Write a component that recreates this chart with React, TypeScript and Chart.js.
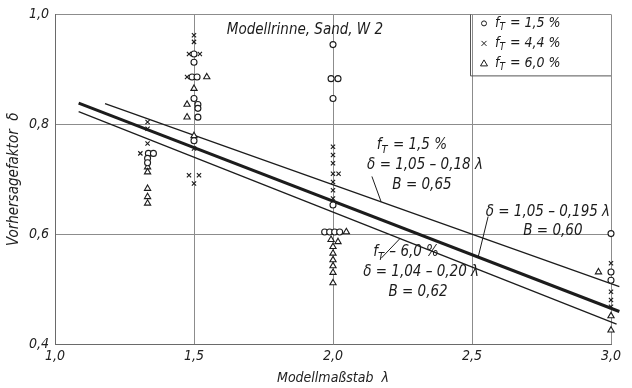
import { useEffect, useRef } from 'react';
import { Chart, registerables } from 'chart.js';

Chart.register(...registerables);

const FONT = "'DejaVu Sans Condensed', 'Liberation Sans Narrow', 'DejaVu Sans', sans-serif";

// axis ticks
const xTicks = [1.0, 1.5, 2.0, 2.5, 3.0];
const yTicks = [0.4, 0.6, 0.8, 1.0];

// f_T = 1,5 % (circles)
const circleLambda = [1.336, 1.354, 1.333, 1.333, 1.5, 1.5, 1.493, 1.511, 1.5, 1.514, 1.514, 1.514, 1.5, 2.0, 1.993, 2.018, 2.0, 2.0, 1.97, 1.988, 2.006, 2.024, 3.0, 3.0, 3.0];
const circleDelta = [0.747, 0.747, 0.738, 0.730, 0.928, 0.913, 0.886, 0.886, 0.847, 0.836, 0.829, 0.813, 0.770, 0.945, 0.883, 0.883, 0.847, 0.653, 0.604, 0.604, 0.604, 0.604, 0.601, 0.531, 0.516];

// f_T = 4,4 % (crosses)
const crossLambda = [1.333, 1.333, 1.333, 1.307, 1.5, 1.5, 1.482, 1.521, 1.475, 1.5, 1.482, 1.518, 1.5, 2.0, 2.0, 2.0, 2.0, 2.02, 2.0, 2.0, 2.0, 3.0, 3.0, 3.0, 3.0];
const crossDelta = [0.804, 0.792, 0.765, 0.747, 0.962, 0.950, 0.928, 0.928, 0.886, 0.756, 0.707, 0.707, 0.692, 0.759, 0.744, 0.729, 0.710, 0.710, 0.695, 0.680, 0.665, 0.547, 0.495, 0.480, 0.468];

// f_T = 6,0 % (triangles)
const triLambda = [1.333, 1.333, 1.333, 1.333, 1.333, 1.546, 1.5, 1.475, 1.475, 1.5, 2.048, 1.993, 2.018, 2.0, 2.0, 2.0, 2.0, 2.0, 2.0, 2.955, 3.0, 3.0];
const triDelta = [0.722, 0.713, 0.683, 0.668, 0.656, 0.886, 0.865, 0.836, 0.813, 0.779, 0.604, 0.590, 0.586, 0.577, 0.565, 0.553, 0.542, 0.530, 0.511, 0.531, 0.451, 0.425];

// regression lines (end points)
const line15Lambda = [1.18, 3.03];
const line15Delta = [0.8376, 0.5046];
const lineAllLambda = [1.085, 3.03];
const lineAllDelta = [0.8384, 0.4592];
const line60Lambda = [1.085, 3.02];
const line60Delta = [0.823, 0.436];

const pts = (xs: number[], ys: number[]) => xs.map((x, i) => ({ x, y: ys[i] }));
const fmt = (v: number) => v.toFixed(1).replace('.', ',');

const INK = '#1c1c1c';
const ANN = 15;

function drawFT(ctx: CanvasRenderingContext2D, x: number, y: number, rest: string, align: 'left' | 'center', size: number) {
  const main = `italic ${size}px ${FONT}`;
  const sub = `italic ${Math.round(size * 0.72)}px ${FONT}`;
  ctx.font = main;
  const wf = ctx.measureText('f').width;
  ctx.font = sub;
  const wt = ctx.measureText('T').width;
  ctx.font = main;
  const wr = ctx.measureText(rest).width;
  const total = wf + wt + 1 + wr;
  const sx = align === 'center' ? x - total / 2 : x;
  ctx.textAlign = 'left';
  ctx.textBaseline = 'middle';
  ctx.font = main;
  ctx.fillText('f', sx, y);
  ctx.font = sub;
  ctx.fillText('T', sx + wf, y + size * 0.3);
  ctx.font = main;
  ctx.fillText(rest, sx + wf + wt + 1, y);
}

const annotationPlugin = {
  id: 'annot',
  afterDatasetsDraw(chart: any) {
    const { ctx, chartArea, scales } = chart;
    const X = (v: number) => scales.x.getPixelForValue(v);
    const Y = (v: number) => scales.y.getPixelForValue(v);
    ctx.save();
    ctx.fillStyle = INK;
    ctx.strokeStyle = INK;

    // title
    ctx.font = `italic ${ANN}px ${FONT}`;
    ctx.textAlign = 'center';
    ctx.textBaseline = 'middle';
    ctx.fillText('Modellrinne, Sand, W 2', X(1.899), Y(0.971));

    // annotations
    drawFT(ctx, X(2.284), Y(0.762), ' = 1,5 %', 'center', ANN);
    ctx.font = `italic ${ANN}px ${FONT}`;
    ctx.textAlign = 'center';
    ctx.fillText('δ = 1,05 – 0,18 λ', X(2.331), Y(0.725));
    ctx.fillText('B = 0,65', X(2.320), Y(0.689));
    ctx.fillText('δ = 1,05 – 0,195 λ', X(2.773), Y(0.640));
    ctx.fillText('B = 0,60', X(2.791), Y(0.605));
    drawFT(ctx, X(2.263), Y(0.567), ' – 6,0 %', 'center', ANN);
    ctx.font = `italic ${ANN}px ${FONT}`;
    ctx.textAlign = 'center';
    ctx.fillText('δ = 1,04 – 0,20 λ', X(2.317), Y(0.531));
    ctx.fillText('B = 0,62', X(2.306), Y(0.495));

    // leader lines
    ctx.lineWidth = 1;
    const seg = (a: number, b: number, c: number, d: number) => {
      ctx.beginPath();
      ctx.moveTo(X(a), Y(b));
      ctx.lineTo(X(c), Y(d));
      ctx.stroke();
    };
    seg(2.14, 0.705, 2.173, 0.659);
    seg(2.558, 0.632, 2.522, 0.558);
    seg(2.173, 0.556, 2.241, 0.592);

    // legend box
    const right = chartArea.right;
    const top = chartArea.top;
    const left = right - 141;
    const bottom = top + 61;
    ctx.strokeStyle = '#555';
    ctx.lineWidth = 1;
    ctx.beginPath();
    ctx.moveTo(left + 0.5, top);
    ctx.lineTo(left + 0.5, bottom + 0.5);
    ctx.lineTo(right, bottom + 0.5);
    ctx.stroke();

    const rows = [' = 1,5 %', ' = 4,4 %', ' = 6,0 %'];
    const styles = ['circle', 'crossRot', 'triangle'];
    rows.forEach((r, i) => {
      const yy = top + 9 + i * 20;
      const mx = left + 14;
      ctx.strokeStyle = INK;
      ctx.fillStyle = '#fff';
      ctx.lineWidth = 1;
      if (styles[i] === 'circle') {
        ctx.beginPath();
        ctx.arc(mx, yy, 2.5, 0, Math.PI * 2);
        ctx.fill();
        ctx.stroke();
      } else if (styles[i] === 'crossRot') {
        ctx.beginPath();
        ctx.moveTo(mx - 2.5, yy - 2.5);
        ctx.lineTo(mx + 2.5, yy + 2.5);
        ctx.moveTo(mx + 2.5, yy - 2.5);
        ctx.lineTo(mx - 2.5, yy + 2.5);
        ctx.stroke();
      } else {
        ctx.beginPath();
        ctx.moveTo(mx, yy - 3.5);
        ctx.lineTo(mx + 3.5, yy + 2.5);
        ctx.lineTo(mx - 3.5, yy + 2.5);
        ctx.closePath();
        ctx.fill();
        ctx.stroke();
      }
      ctx.fillStyle = INK;
      drawFT(ctx, left + 25, yy, r, 'left', 14);
    });
    ctx.restore();
  },
};

export default function App() {
  const ref = useRef<HTMLCanvasElement>(null);
  useEffect(() => {
    if (!ref.current) return;
    const markerBase = {
      borderColor: INK,
      backgroundColor: '#fff',
      borderWidth: 1.1,
      showLine: false,
    };
    const lineBase = {
      borderColor: INK,
      showLine: true,
      pointRadius: 0,
      fill: false,
    };
    const chart = new Chart(ref.current, {
      type: 'scatter',
      data: {
        datasets: [
          { ...markerBase, label: 'fT = 1,5 %', data: pts(circleLambda, circleDelta), pointStyle: 'circle', pointRadius: 3 },
          { ...markerBase, label: 'fT = 4,4 %', data: pts(crossLambda, crossDelta), pointStyle: 'crossRot', pointRadius: 3 },
          { ...markerBase, label: 'fT = 6,0 %', data: pts(triLambda, triDelta), pointStyle: 'triangle', pointRadius: 3.6 },
          { ...lineBase, label: 'fT 1,5', data: pts(line15Lambda, line15Delta), borderWidth: 1.3 },
          { ...lineBase, label: 'all', data: pts(lineAllLambda, lineAllDelta), borderWidth: 3 },
          { ...lineBase, label: 'fT 6,0', data: pts(line60Lambda, line60Delta), borderWidth: 1.3 },
        ],
      } as any,
      options: {
        animation: false,
        responsive: false,
        layout: { padding: { top: 14, right: 21, left: 0, bottom: 0 } },
        plugins: { legend: { display: false }, tooltip: { enabled: false } },
        clip: false as any,
        scales: {
          x: {
            type: 'linear',
            min: 1.0,
            max: 3.0,
            afterBuildTicks: (s: any) => { s.ticks = xTicks.map((v) => ({ value: v })); },
            afterFit: (s: any) => { s.height = 44; },
            grid: { color: '#8c8c8c', lineWidth: 1, drawTicks: false },
            border: { color: '#6a6a6a', width: 1 },
            ticks: {
              padding: 4,
              color: '#222',
              font: { family: FONT, size: 14, style: 'italic' },
              callback: (v: any) => fmt(Number(v)),
              maxRotation: 0,
            },
            title: {
              display: true,
              text: 'Modellmaßstab  λ',
              color: '#222',
              font: { family: FONT, size: 14, style: 'italic' },
              padding: { top: 0, bottom: 1 },
            },
          },
          y: {
            type: 'linear',
            min: 0.4,
            max: 1.0,
            afterBuildTicks: (s: any) => { s.ticks = yTicks.map((v) => ({ value: v })); },
            afterFit: (s: any) => { s.width = 55; },
            grid: { color: '#8c8c8c', lineWidth: 1, drawTicks: false },
            border: { color: '#6a6a6a', width: 1 },
            ticks: {
              padding: 6,
              color: '#222',
              font: { family: FONT, size: 14, style: 'italic' },
              callback: (v: any) => fmt(Number(v)),
            },
            title: {
              display: true,
              text: 'Vorhersagefaktor  δ',
              color: '#222',
              font: { family: FONT, size: 15, style: 'italic' },
              padding: { top: 5, bottom: 0 },
            },
          },
        },
      } as any,
      plugins: [annotationPlugin],
    });
    return () => chart.destroy();
  }, []);
  return (
    <div style={{ position: 'fixed', left: 0, top: 0, width: 632, height: 388, background: '#fff' }}>
      <canvas ref={ref} width={632} height={388} style={{ display: 'block' }} />
    </div>
  );
}
